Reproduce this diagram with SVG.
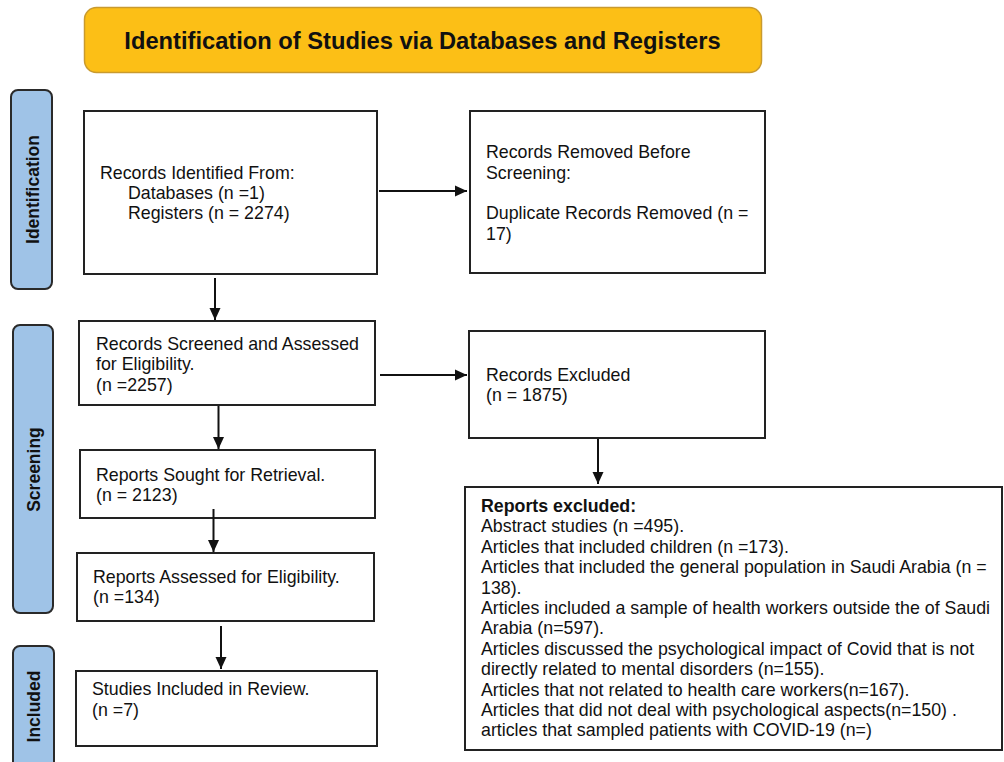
<svg xmlns="http://www.w3.org/2000/svg" width="1004" height="762" viewBox="0 0 1004 762">
<style>
.box{fill:#fff;stroke:#222;stroke-width:2}
.side{fill:#9FC3E7;stroke:#2a2a2a;stroke-width:2}
.t{font-family:"Liberation Sans",Arial,sans-serif;font-size:17.8px;fill:#111}
.b{font-weight:bold}
.st{font-family:"Liberation Sans",Arial,sans-serif;font-size:17.5px;font-weight:bold;fill:#111;text-anchor:middle}
.c{stroke:#111;stroke-width:2;fill:none;marker-end:url(#ah)}
</style>
<defs>
<marker id="ah" markerUnits="userSpaceOnUse" markerWidth="12" markerHeight="12" viewBox="0 0 12 12" refX="12" refY="6" orient="auto">
<path d="M0,0.5 L12,6 L0,11.5 z" fill="#111"/>
</marker>
</defs>
<rect width="1004" height="762" fill="#fff"/>
<g id="title">
<rect x="84.5" y="7.5" width="677" height="65" rx="12" fill="#FCBF16" stroke="#C99A2E" stroke-width="1.5"/>
<text x="422.5" y="49.3" style="font-family:'Liberation Sans',Arial,sans-serif;font-size:23.7px;font-weight:bold;fill:#111" text-anchor="middle">Identification of Studies via Databases and Registers</text>
</g>
<g id="side-identification">
<rect class="side" x="11" y="90" width="41" height="199" rx="7"/>
<text class="st" transform="translate(39,189.5) rotate(-90)">Identification</text>
</g>
<g id="side-screening">
<rect class="side" x="13" y="325" width="40" height="288" rx="7"/>
<text class="st" transform="translate(39.5,469.5) rotate(-90)">Screening</text>
</g>
<g id="side-included">
<rect class="side" x="13" y="646" width="41" height="140" rx="7"/>
<text class="st" transform="translate(39.5,706.5) rotate(-90)">Included</text>
</g>
<g id="records-identified">
<rect class="box" x="84" y="111" width="293" height="163"/>
<text class="t" x="100" y="179">Records Identified From:</text>
<text class="t" x="128" y="199">Databases (n =1)</text>
<text class="t" x="128" y="219">Registers (n = 2274)</text>
</g>
<g id="records-removed">
<rect class="box" x="470" y="111" width="295" height="162"/>
<text class="t" x="486" y="158">Records Removed Before</text>
<text class="t" x="486" y="178.5">Screening:</text>
<text class="t" x="486" y="219">Duplicate Records Removed (n =</text>
<text class="t" x="486" y="239.5">17)</text>
</g>
<g id="records-screened">
<rect class="box" x="79" y="321" width="296" height="84"/>
<text class="t" x="96" y="350">Records Screened and Assessed</text>
<text class="t" x="96" y="370">for Eligibility.</text>
<text class="t" x="96" y="390.5">(n =2257)</text>
</g>
<g id="records-excluded">
<rect class="box" x="469" y="331" width="296" height="107"/>
<text class="t" x="486" y="381">Records Excluded</text>
<text class="t" x="486" y="401">(n = 1875)</text>
</g>
<g id="reports-sought">
<rect class="box" x="80" y="450" width="295" height="68"/>
<text class="t" x="96" y="480.5">Reports Sought for Retrieval.</text>
<text class="t" x="96" y="500.5">(n = 2123)</text>
</g>
<g id="reports-assessed">
<rect class="box" x="77" y="553" width="297" height="68"/>
<text class="t" x="93" y="583">Reports Assessed for Eligibility.</text>
<text class="t" x="93" y="603">(n =134)</text>
</g>
<g id="studies-included">
<rect class="box" x="76" y="671" width="301" height="75"/>
<text class="t" x="92" y="695">Studies Included in Review.</text>
<text class="t" x="92" y="716">(n =7)</text>
</g>
<g id="reports-excluded">
<rect class="box" x="465" y="487" width="537" height="263"/>
<text class="t b" x="481" y="512">Reports excluded:</text>
<text class="t" x="481" y="532.4">Abstract studies (n =495).</text>
<text class="t" x="481" y="552.8">Articles that included children (n =173).</text>
<text class="t" x="481" y="573.2">Articles that included the general population in Saudi Arabia (n =</text>
<text class="t" x="481" y="593.6">138).</text>
<text class="t" x="481" y="614">Articles included a sample of health workers outside the of Saudi</text>
<text class="t" x="481" y="634.4">Arabia (n=597).</text>
<text class="t" x="481" y="654.8">Articles discussed the psychological impact of Covid that is not</text>
<text class="t" x="481" y="675.2">directly related to mental disorders (n=155).</text>
<text class="t" x="481" y="695.6">Articles that not related to health care workers(n=167).</text>
<text class="t" x="481" y="716">Articles that did not deal with psychological aspects(n=150) .</text>
<text class="t" x="481" y="736.4">articles that sampled patients with COVID-19 (n=)</text>
</g>
<g id="connectors">
<line class="c" x1="379" y1="191" x2="467" y2="191"/>
<line class="c" x1="215" y1="278" x2="215" y2="320"/>
<line class="c" x1="380" y1="375" x2="467" y2="375"/>
<line class="c" x1="218.5" y1="406" x2="218.5" y2="449"/>
<line class="c" x1="598" y1="439" x2="598" y2="484"/>
<line class="c" x1="213.5" y1="509" x2="213.5" y2="552"/>
<line class="c" x1="221" y1="626" x2="221" y2="669"/>
</g>
</svg>
